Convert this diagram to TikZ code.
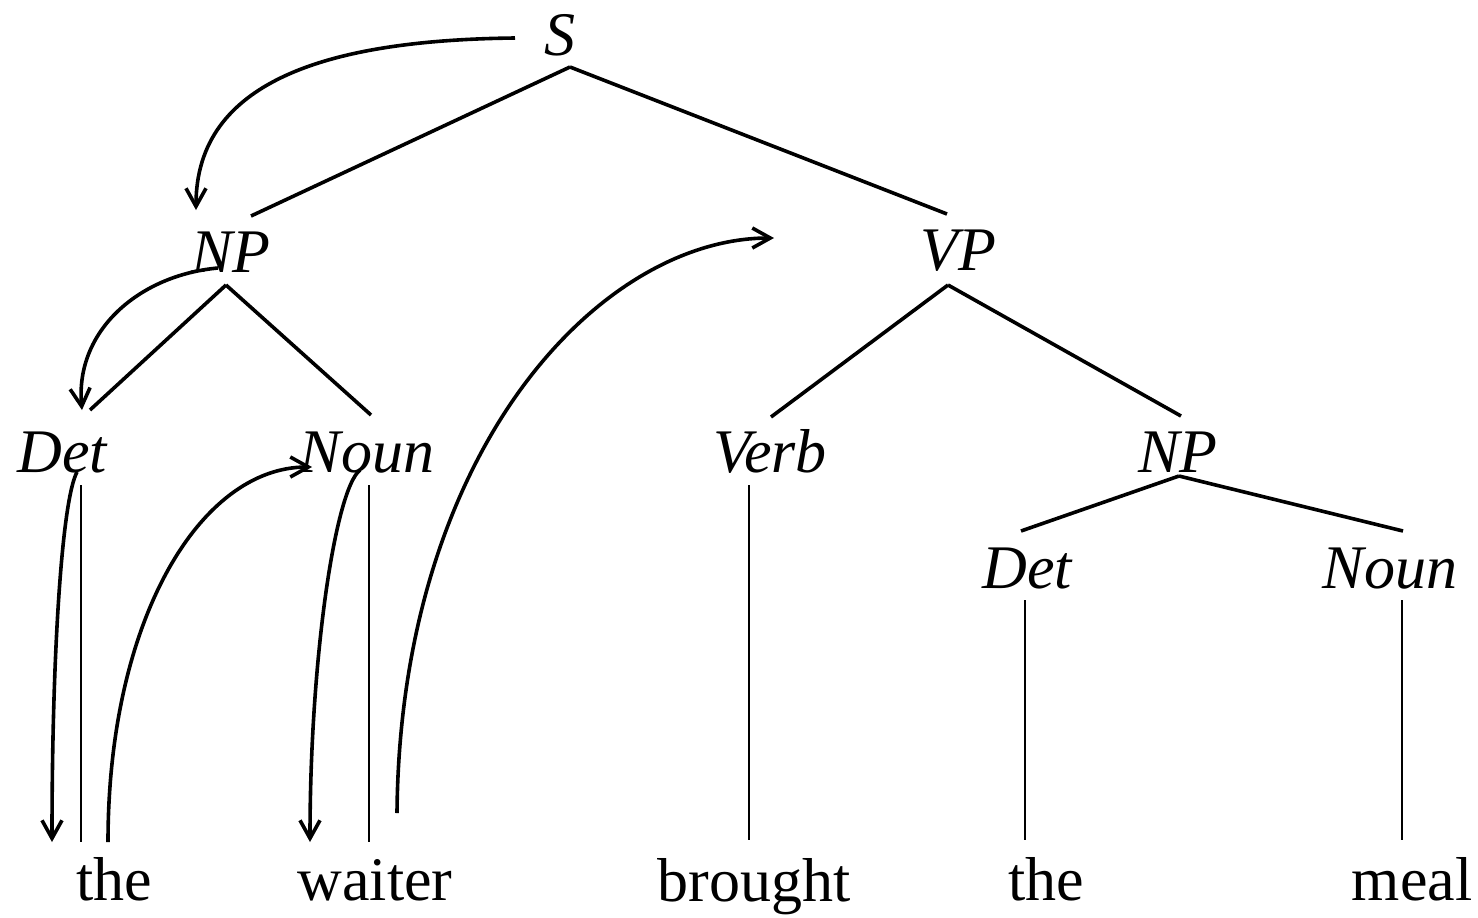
\documentclass[tikz,border=0pt]{standalone}
\usepackage{fontspec}
\setmainfont{Liberation Serif}
\usetikzlibrary{arrows.meta,calc}

\begin{document}
\begin{tikzpicture}[x=.5pt, y=-.5pt, every node/.style={font=\fontsize{31}{37}\selectfont, inner sep=0pt, anchor=base}, cat/.style={font=\fontsize{31}{37}\selectfont\itshape}, edge/.style={line width=1.8pt}, leaf/.style={line width=1.3pt}, arc/.style={line width=1.8pt, -{Straight Barb[length=9pt, width=10pt]}}]
    \useasboundingbox (0,0) rectangle (1478,917);
    % categories
    \node[cat] (s) at (560,55) {S};
    \node[cat] (np) at (231,272) {NP};
    \node[cat] (vp) at (958,270) {VP};
    \node[cat] (det) at (62,472) {Det};
    \node[cat] (noun) at (367,472) {Noun};
    \node[cat] (verb) at (770,472) {Verb};
    \node[cat] (np2) at (1178,472) {NP};
    \node[cat] (det2) at (1027,588) {Det};
    \node[cat] (noun2) at (1390,588) {Noun};
    % words
    \node (the) at (114,900) {the};
    \node (waiter) at (375,900) {waiter};
    \node (brought) at (754,901) {brought};
    \node (the2) at (1046,900) {the};
    \node (meal) at (1412,900) {meal};
    % tree
    \draw[edge] ($(s.base)+(10,12)$) -- ($(np.base)+(20,-56)$);
    \draw[edge] ($(s.base)+(10,12)$) -- ($(vp.base)+(-11,-56)$);
    \draw[edge] ($(np.base)+(-5,13)$) -- ($(det.base)+(28,-62)$);
    \draw[edge] ($(np.base)+(-5,13)$) -- ($(noun.base)+(4,-57)$);
    \draw[edge] ($(vp.base)+(-10,15)$) -- ($(verb.base)+(1,-55)$);
    \draw[edge] ($(vp.base)+(-10,15)$) -- ($(np2.base)+(3,-56)$);
    \draw[edge] ($(np2.base)+(1,4)$) -- ($(det2.base)+(-6,-57)$);
    \draw[edge] ($(np2.base)+(1,4)$) -- ($(noun2.base)+(13,-57)$);
    \draw[leaf] ($(det.base)+(19,13)$) -- ($(the.base)+(-33,-58)$);
    \draw[leaf] ($(noun.base)+(2,13)$) -- ($(waiter.base)+(-6,-58)$);
    \draw[leaf] ($(verb.base)+(-21,13)$) -- ($(brought.base)+(-5,-61)$);
    \draw[leaf] ($(det2.base)+(-2,12)$) -- ($(the2.base)+(-21,-60)$);
    \draw[leaf] ($(noun2.base)+(12,12)$) -- ($(meal.base)+(-10,-60)$);
    % traversal
    \draw[arc] ($(s.base)+(-45,-17)$) .. controls +(-185,2) and +(0,-130) .. ($(np.base)+(-35,-62)$);
    \draw[arc] ($(np.base)+(-13,-4)$) .. controls +(-78,7) and +(-7,-80) .. ($(det.base)+(20,-62)$);
    \draw[arc] ($(det.base)+(15,0)$) .. controls +(-15,28) and +(0,-190) .. ($(the.base)+(-62,-58)$);
    \draw[arc] ($(the.base)+(-6,-58)$) .. controls +(0,-222) and +(-112,0) .. ($(noun.base)+(-55,-5)$);
    \draw[arc] ($(noun.base)+(-7,-2)$) .. controls +(-25,20) and +(0,-182) .. ($(waiter.base)+(-65,-58)$);
    \draw[arc] ($(waiter.base)+(22,-87)$) .. controls +(3,-363) and +(-174,0) .. ($(vp.base)+(-184,-32)$);
\end{tikzpicture}
\end{document}
